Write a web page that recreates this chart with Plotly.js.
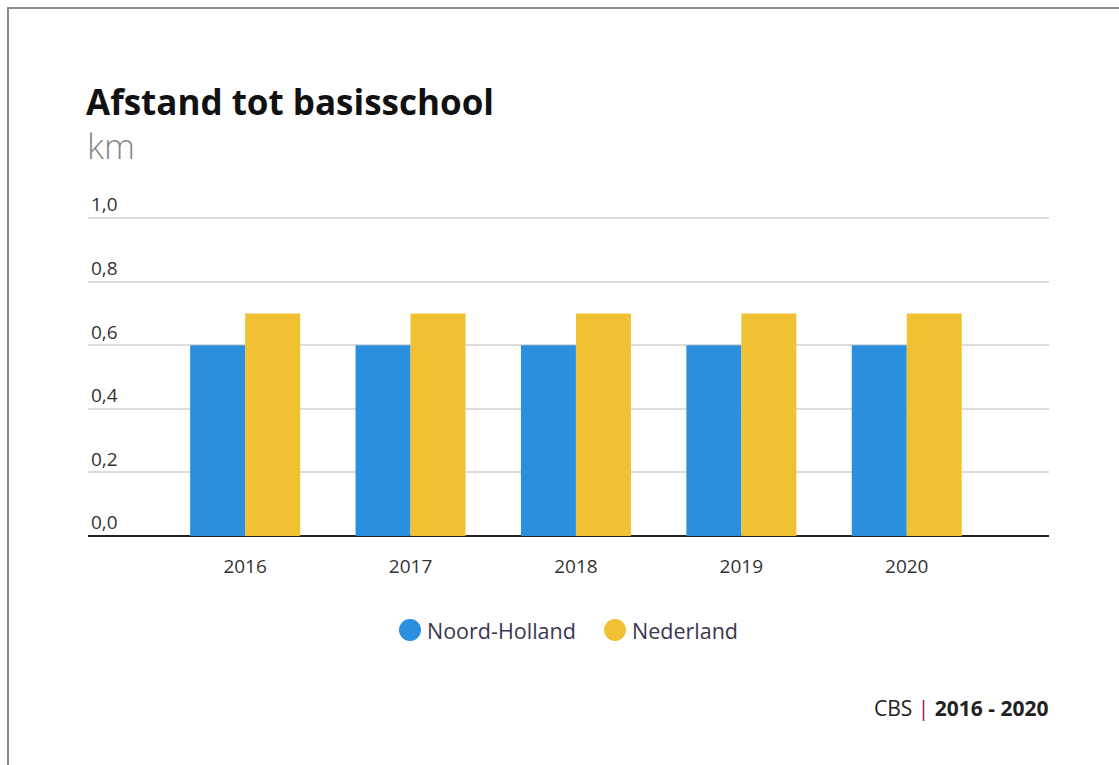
<!DOCTYPE html>
<html>
<head>
<meta charset="utf-8">
<script src="https://cdn.plot.ly/plotly-3.0.1.min.js"></script>
<style>
  html, body { margin: 0; padding: 0; background: #fff; }
  #frame { position: absolute; left: 0; top: 0; width: 1119px; height: 765px; }
  #edge { position: absolute; left: 7px; top: 7px; width: 1112px; height: 758px;
          border-top: 2px solid #8a8a8a; border-left: 2px solid #8a8a8a; pointer-events: none; }
  #chart { position: absolute; left: 0; top: 0; width: 1119px; height: 765px; }
</style>
</head>
<body>
<div id="frame">
  <div id="chart"></div>
  <div id="edge"></div>
</div>
<script>
const years = ['2016', '2017', '2018', '2019', '2020'];
const noordHolland = [0.6, 0.6, 0.6, 0.6, 0.6];
const nederland = [0.7, 0.7, 0.7, 0.7, 0.7];
const seriesNames = ['Noord-Holland', 'Nederland'];
const colors = ['#2b8fe0', '#f0c132'];
const yTicks = [0, 0.2, 0.4, 0.6, 0.8, 1.0];

const font = 'Open Sans, Noto Sans, sans-serif';

// plot area geometry (pixels)
const W = 1119, H = 765;
const L = 88, R = 1049, T = 190, B = 536;
const yZero = 536, yOne = 218;
const yMax = (B - T) / (yZero - yOne);   // extends above 1,0 so its label fits
const px = x => (x - L) / (R - L);
const py = y => (B - y) / (B - T);

const traces = [
  { type: 'bar', x: years, y: noordHolland, name: seriesNames[0],
    marker: { color: colors[0] }, showlegend: false, hoverinfo: 'y' },
  { type: 'bar', x: years, y: nederland, name: seriesNames[1],
    marker: { color: colors[1] }, showlegend: false, hoverinfo: 'y' }
];

// custom legend: circle shapes + name annotations
const legendDotX = [410, 615];
const legendY = 630;
const legendShapes = seriesNames.map((n, i) => ({
  type: 'circle', xref: 'paper', yref: 'paper', xsizemode: 'pixel', ysizemode: 'pixel',
  xanchor: px(legendDotX[i]), yanchor: py(legendY), x0: -11, x1: 11, y0: -11, y1: 11,
  fillcolor: colors[i], line: { width: 0 }
}));
const legendAnns = seriesNames.map((n, i) => ({
  text: n, xref: 'paper', yref: 'paper', x: px(legendDotX[i] + 15), xanchor: 'left',
  y: py(legendY), yanchor: 'middle', showarrow: false,
  font: { family: font, size: 21.5, color: '#3a3550' }
}));

const layout = {
  width: W, height: H,
  margin: { l: L, r: W - R, t: T, b: H - B },
  paper_bgcolor: 'rgba(0,0,0,0)', plot_bgcolor: '#fff',
  separators: ',.',
  barmode: 'group', bargap: 0.335, bargroupgap: 0,
  font: { family: font, color: '#333' },
  title: { text: '<b>Afstand tot basisschool</b>', x: 86 / W, xanchor: 'left',
           y: 1 - 103 / H, yanchor: 'middle', xref: 'container', yref: 'container',
           font: { family: font, size: 35, color: '#111' } },
  xaxis: { type: 'category', range: [-0.95, 4.86], showgrid: false, zeroline: false,
           showline: false, ticks: '', tickfont: { size: 19, color: '#333' },
           ticklabelstandoff: 17, fixedrange: true },
  yaxis: { range: [0, yMax], tickvals: yTicks, tickformat: '.1f', showgrid: true,
           gridcolor: '#dcdcdc', gridwidth: 2, zeroline: true, zerolinecolor: '#222',
           zerolinewidth: 2, showline: false, ticks: '',
           ticklabelposition: 'inside top', tickfont: { size: 19, color: '#333' },
           fixedrange: true },
  showlegend: false,
  shapes: legendShapes,
  annotations: [
    { text: 'km', xref: 'paper', yref: 'paper', x: 0, xanchor: 'left', xshift: -3,
      y: py(145), yanchor: 'middle', showarrow: false,
      font: { family: 'Open Sans, sans-serif', size: 35, color: '#888', weight: 300 } },
    ...legendAnns,
    { text: 'CBS <span style="color:#a0174a">|</span> <b>2016 - 2020</b>', xref: 'paper', yref: 'paper',
      x: 1, xanchor: 'right', xshift: 2, y: py(708), yanchor: 'middle', showarrow: false,
      font: { family: font, size: 21, color: '#222' } }
  ]
};

Plotly.newPlot('chart', traces, layout, { displayModeBar: false, staticPlot: true });
</script>
</body>
</html>
